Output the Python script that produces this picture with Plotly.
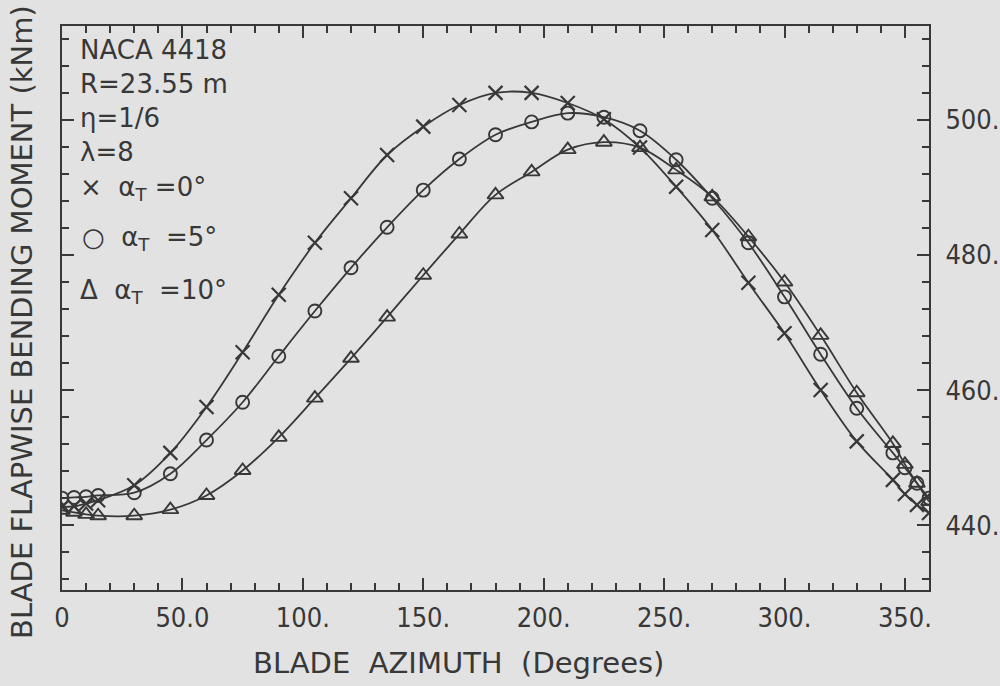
import plotly.graph_objects as go

# ---- data ----
azimuth = [0, 5, 10, 15, 30, 45, 60, 75, 90, 105, 120, 135, 150, 165, 180,
           195, 210, 225, 240, 255, 270, 285, 300, 315, 330, 345, 350, 355, 360]

moment_alpha0 = [442.7, 442.8, 443.2, 443.7, 445.9, 450.7, 457.5, 465.6, 474.1,
                 481.8, 488.4, 494.8, 499.0, 502.2, 504.0, 504.0, 502.5, 500.1,
                 495.9, 490.1, 483.7, 475.9, 468.4, 460.0, 452.4, 446.7, 444.6,
                 443.0, 441.8]

moment_alpha5 = [444.0, 444.1, 444.2, 444.4, 444.8, 447.6, 452.6, 458.2, 465.0,
                 471.7, 478.1, 484.1, 489.6, 494.2, 497.8, 499.7, 501.0, 500.4,
                 498.4, 494.1, 488.4, 481.8, 473.8, 465.3, 457.3, 450.7, 448.5,
                 446.2, 444.0]

moment_alpha10 = [442.2, 441.9, 441.6, 441.4, 441.4, 442.3, 444.4, 448.1, 453.0,
                  458.8, 464.7, 470.8, 477.0, 483.1, 488.9, 492.3, 495.6, 496.7,
                  495.9, 492.6, 488.6, 482.7, 476.0, 468.1, 459.6, 452.1, 449.0,
                  446.2, 443.5]

x_tickvals = [0, 50, 100, 150, 200, 250, 300, 350]
x_ticktext = ["0", "50.0", "100.", "150.", "200.", "250.", "300.", "350."]
y_tickvals = [440, 460, 480, 500]
y_ticktext = ["440.", "460.", "480.", "500."]

INK = "#383838"
BG = "#e2e2e2"
FONT = "DejaVu Sans"
TICKFONT = "Liberation Sans Narrow, DejaVu Sans Condensed, DejaVu Sans"

# plot-area geometry (pixels) for placing text annotations
L, R, T, B = 62, 929, 26, 590
W, H = R - L, B - T


def px(xp):
    return (xp - L) / W


def py(yp):
    return (B - yp) / H


fig = go.Figure()

series = [
    (moment_alpha0, "x-thin-open", 14, 2.2),
    (moment_alpha5, "circle-open", 13, 1.9),
    (moment_alpha10, "triangle-up-open", 14, 1.9),
]
for vals, sym, size, lw in series:
    fig.add_trace(go.Scatter(
        x=azimuth, y=vals, mode="lines+markers",
        line=dict(color=INK, width=1.8, shape="spline", smoothing=1.0),
        marker=dict(symbol=sym, size=size, color=INK, line=dict(color=INK, width=lw)),
        showlegend=False, hoverinfo="x+y",
    ))

fig.update_xaxes(
    range=[0, 360], tickvals=x_tickvals, ticktext=x_ticktext,
    ticks="inside", ticklen=12, tickwidth=2, tickcolor=INK,
    showline=True, linewidth=2, linecolor=INK, mirror="ticks",
    showgrid=False, zeroline=False, automargin=False,
    minor=dict(dtick=10, tick0=0, ticks="inside", ticklen=7, tickwidth=2,
               tickcolor=INK, showgrid=False),
    tickfont=dict(family=TICKFONT, size=27, color=INK),
    ticklabelstandoff=3,
)
fig.update_yaxes(
    range=[430.4, 513.9], side="right", tickvals=y_tickvals, ticktext=y_ticktext,
    ticks="inside", ticklen=12, tickwidth=2, tickcolor=INK,
    showline=True, linewidth=2, linecolor=INK, mirror="ticks",
    showgrid=False, zeroline=False, automargin=False,
    minor=dict(dtick=4, tick0=440, ticks="inside", ticklen=7, tickwidth=2,
               tickcolor=INK, showgrid=False),
    tickfont=dict(family=TICKFONT, size=27, color=INK),
    ticklabelstandoff=9,
)

ann_font = dict(family=FONT, size=26, color=INK)
title_font = dict(family=FONT, size=29, color=INK)
annotations = [
    dict(text="NACA 4418", x=px(78), y=py(50)),
    dict(text="R=23.55 m", x=px(78), y=py(84)),
    dict(text="η=1/6", x=px(78), y=py(118)),
    dict(text="λ=8", x=px(78), y=py(152)),
    dict(text="×  α<sub>T</sub> =0°", x=px(78), y=py(188)),
    dict(text="○  α<sub>T</sub>  =5°", x=px(80), y=py(239)),
    dict(text="Δ  α<sub>T</sub>  =10°", x=px(78), y=py(291)),
]
for a in annotations:
    a.update(xref="paper", yref="paper", xanchor="left", yanchor="middle",
             showarrow=False, font=ann_font)

annotations.append(dict(
    text="BLADE  AZIMUTH  (Degrees)", x=px(458), y=py(663), xref="paper", yref="paper",
    xanchor="center", yanchor="middle", showarrow=False, font=title_font))
annotations.append(dict(
    text="BLADE FLAPWISE BENDING MOMENT (kNm)", x=px(22), y=py(322),
    xref="paper", yref="paper", xanchor="center", yanchor="middle",
    textangle=-90, showarrow=False, font=title_font))

fig.update_layout(
    width=1000, height=686,
    margin=dict(l=L, r=1000 - R, t=T, b=686 - B, pad=0, autoexpand=False),
    paper_bgcolor=BG, plot_bgcolor=BG,
    annotations=annotations,
    showlegend=False,
)

fig.write_html("out.html",
               config={"displayModeBar": False},
               post_script="document.body.style.margin='0';document.body.style.overflow='hidden';")
